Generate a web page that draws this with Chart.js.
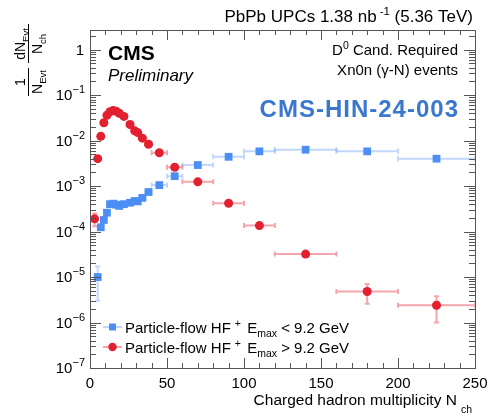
<!DOCTYPE html>
<html>
<head>
<meta charset="utf-8">
<script src="https://cdn.jsdelivr.net/npm/chart.js@4/dist/chart.umd.min.js"></script>
<style>
  html, body { margin: 0; padding: 0; background: #fff; }
  #wrap { width: 489px; height: 416px; }
</style>
</head>
<body>
<div id="wrap"><canvas id="chart" width="489" height="416"></canvas></div>
<script>
// ---- data ----
// HF+ Emax < 9.2 GeV
const blueX    = [5, 7, 9, 11, 13, 15, 17, 19, 22, 26, 29, 31, 34, 38, 45, 55, 70, 90, 110, 140, 180, 225];
const blueXErr = [1, 1, 1, 1, 1, 1, 1, 1, 2, 2, 1, 1, 2, 2, 5, 5, 10, 10, 10, 20, 20, 25];
const blueY    = [1.0e-5, 1.24e-4, 1.8e-4, 2.6e-4, 4.0e-4, 4.1e-4, 3.9e-4, 3.66e-4, 4.0e-4, 4.3e-4, 4.7e-4, 4.6e-4,
                  5.5e-4, 7.4e-4, 1.05e-3, 1.65e-3, 2.9e-3, 4.4e-3, 5.8e-3, 6.3e-3, 5.8e-3, 4.0e-3];
const blueYErr = [0.7e-5, 0.15e-4, 0.15e-4, 0.2e-4, 0.2e-4, 0.2e-4, 0.2e-4, 0.2e-4, 0.2e-4, 0.2e-4, 0.2e-4, 0.2e-4,
                  0.2e-4, 0.3e-4, 0.4e-4, 0.5e-4, 0.6e-4, 0.8e-4, 1e-4, 1e-4, 1e-4, 1e-4];

// HF+ Emax > 9.2 GeV
const redX    = [3, 5, 7, 9, 11, 13, 15, 17, 19, 22, 26, 29, 31, 34, 38, 45, 55, 70, 90, 110, 140, 180, 225];
const redXErr = [1, 1, 1, 1, 1, 1, 1, 1, 1, 2, 2, 1, 1, 2, 2, 5, 5, 10, 10, 10, 20, 20, 25];
const redY    = [1.9e-4, 4.0e-3, 1.24e-2, 2.46e-2, 3.6e-2, 4.3e-2, 4.6e-2, 4.4e-2, 4.0e-2, 3.4e-2, 2.26e-2, 1.64e-2,
                 1.5e-2, 1.13e-2, 8.3e-3, 5.4e-3, 2.6e-3, 1.24e-3, 4.2e-4, 1.35e-4, 3.2e-5, 4.8e-6, 2.4e-6];
const redYErr = [0.6e-4, 0.3e-3, 0.5e-3, 0.8e-3, 1e-3, 1e-3, 1e-3, 1e-3, 1e-3, 1e-3, 0.8e-3, 0.6e-3,
                 0.6e-3, 0.4e-3, 0.3e-3, 0.2e-3, 0.1e-3, 0.06e-3, 0.3e-4, 0.15e-4, 0.4e-5, 2.2e-6, 1.4e-6];

const xTicks = [0, 50, 100, 150, 200, 250];
const yTickExps = [0, -1, -2, -3, -4, -5, -6, -7];

const X_MIN = 0, X_MAX = 250;
const Y_MIN = 1e-7, Y_MAX = 2.7;

const BLUE = '#4d8ef5';
const BLUE_ERR = 'rgba(77,142,245,0.35)';
const RED = '#e3202f';
const RED_ERR = 'rgba(227,32,47,0.4)';
const FONT = '"Liberation Sans", Arial, Helvetica, sans-serif';

function fontOf(p) {
  return `${p.style || 'normal'} ${p.weight || 'normal'} ${p.size}px ${FONT}`;
}

// draw a run of text pieces (for super/subscripts)
function runText(ctx, parts, x, y, align, spacing) {
  ctx.letterSpacing = spacing || '0px';
  let w = 0;
  parts.forEach(p => {
    ctx.font = fontOf(p);
    p.w = ctx.measureText(p.t).width;
    w += p.w + (p.gap || 0);
  });
  let cx = align === 'right' ? x - w : align === 'center' ? x - w / 2 : x;
  ctx.textAlign = 'left';
  ctx.textBaseline = 'alphabetic';
  parts.forEach(p => {
    cx += p.gap || 0;
    ctx.font = fontOf(p);
    ctx.fillStyle = p.color || '#000';
    ctx.fillText(p.t, cx, y + (p.dy || 0));
    cx += p.w;
  });
  ctx.letterSpacing = '0px';
  return w;
}

const errorBars = {
  id: 'errorBars',
  beforeDatasetsDraw(chart) {
    const { ctx, scales: { x, y }, chartArea: a } = chart;
    ctx.save();
    ctx.beginPath();
    ctx.rect(a.left, a.top, a.right - a.left, a.bottom - a.top);
    ctx.clip();
    chart.data.datasets.forEach(ds => {
      ctx.strokeStyle = ds.errColor;
      ctx.lineWidth = 2;
      ds.data.forEach((pt, i) => {
        const px = x.getPixelForValue(pt.x);
        const py = y.getPixelForValue(pt.y);
        const x0 = x.getPixelForValue(pt.x - ds.xErr[i]);
        const x1 = x.getPixelForValue(pt.x + ds.xErr[i]);
        const lo = Math.max(pt.y - ds.yErr[i], Y_MIN * 0.5);
        const y0 = y.getPixelForValue(lo);
        const y1 = y.getPixelForValue(pt.y + ds.yErr[i]);
        ctx.beginPath();
        ctx.moveTo(x0, py); ctx.lineTo(x1, py);
        ctx.moveTo(x0, py - 2.5); ctx.lineTo(x0, py + 2.5);
        ctx.moveTo(x1, py - 2.5); ctx.lineTo(x1, py + 2.5);
        ctx.moveTo(px, y0); ctx.lineTo(px, y1);
        if (Math.abs(y0 - y1) > 8) {
          ctx.moveTo(px - 2.5, y0); ctx.lineTo(px + 2.5, y0);
          ctx.moveTo(px - 2.5, y1); ctx.lineTo(px + 2.5, y1);
        }
        ctx.stroke();
      });
    });
    ctx.restore();
  },
};

const frame = {
  id: 'frame',
  afterDraw(chart) {
    const { ctx, scales: { x, y }, chartArea: a } = chart;
    ctx.save();
    ctx.strokeStyle = '#555';
    ctx.lineWidth = 1;
    ctx.strokeRect(a.left + 0.5, a.top + 0.5, a.right - a.left, a.bottom - a.top);

    // x ticks, inside, bottom and top
    ctx.beginPath();
    for (let v = X_MIN; v <= X_MAX; v += 10) {
      const px = Math.round(x.getPixelForValue(v)) + 0.5;
      const len = v % 50 === 0 ? 10 : 5;
      ctx.moveTo(px, a.bottom); ctx.lineTo(px, a.bottom - len);
      ctx.moveTo(px, a.top); ctx.lineTo(px, a.top + len);
    }
    // y ticks, log
    for (let e = -7; e <= 0; e++) {
      for (let m = 1; m <= 9; m++) {
        const v = m * Math.pow(10, e);
        if (v < Y_MIN || v > Y_MAX) continue;
        const py = Math.round(y.getPixelForValue(v)) + 0.5;
        const len = m === 1 ? 11 : 6;
        ctx.moveTo(a.left, py); ctx.lineTo(a.left + len, py);
        ctx.moveTo(a.right, py); ctx.lineTo(a.right - len, py);
      }
    }
    const py2 = Math.round(y.getPixelForValue(2)) + 0.5;
    ctx.moveTo(a.left, py2); ctx.lineTo(a.left + 6, py2);
    ctx.moveTo(a.right, py2); ctx.lineTo(a.right - 6, py2);
    ctx.stroke();

    // x tick labels
    ctx.fillStyle = '#000';
    xTicks.forEach(v => {
      runText(ctx, [{ t: String(v), size: 15 }], x.getPixelForValue(v), a.bottom + 20, 'center');
    });
    // y tick labels
    yTickExps.forEach(e => {
      const py = y.getPixelForValue(Math.pow(10, e)) + 5;
      if (e === 0) {
        runText(ctx, [{ t: '1', size: 15 }], a.left - 6, py, 'right');
      } else {
        runText(ctx, [{ t: '10', size: 15 }, { t: '\u2212' + (-e), size: 11, dy: -7 }], a.left - 5, py, 'right');
      }
    });

    // x title
    runText(ctx, [{ t: 'Charged hadron multiplicity N', size: 15.5 }, { t: 'ch', size: 10.5, dy: 8, gap: 4 }],
      a.right - 3, 405, 'right');

    // y title (rotated fractions)
    ctx.save();
    ctx.translate(28, 0);
    ctx.rotate(-Math.PI / 2);
    ctx.strokeStyle = '#000';
    ctx.lineWidth = 1;
    ctx.beginPath();
    ctx.moveTo(-96, 0.5); ctx.lineTo(-68, 0.5);
    ctx.moveTo(-63, 0.5); ctx.lineTo(-24, 0.5);
    ctx.stroke();
    runText(ctx, [{ t: '1', size: 14 }], -82, -3, 'center');
    runText(ctx, [{ t: 'N', size: 14 }, { t: 'Evt', size: 9.5, dy: 4 }], -82, 14, 'center');
    runText(ctx, [{ t: 'dN', size: 14 }, { t: 'Evt', size: 9.5, dy: 4 }], -44, -3, 'center');
    runText(ctx, [{ t: 'N', size: 14 }, { t: 'ch', size: 9.5, dy: 4 }], -44, 14, 'center');
    ctx.restore();

    // header
    runText(ctx, [
      { t: 'PbPb UPCs 1.38 nb', size: 17 },
      { t: '-1', size: 11.5, dy: -7, gap: 3 },
      { t: ' (5.36 TeV)', size: 17 },
    ], a.right - 2, 22, 'right');

    // inside labels
    runText(ctx, [{ t: 'CMS', size: 21, weight: 'bold' }], 108, 60, 'left');
    runText(ctx, [{ t: 'Preliminary', size: 17, style: 'italic' }], 108, 81, 'left');
    runText(ctx, [{ t: 'D', size: 15 }, { t: '0', size: 10.5, dy: -6 }, { t: ' Cand. Required', size: 15 }],
      458, 55, 'right');
    runText(ctx, [{ t: 'Xn0n (\u03b3-N) events', size: 15 }], 458, 75, 'right');
    runText(ctx, [{ t: 'CMS-HIN-24-003', size: 24, weight: 'bold', color: '#3a78cf' }], 459, 117, 'right', '1px');

    // legend
    const legend = [
      { color: BLUE, err: BLUE_ERR, style: 'rect', op: '<', y: 327 },
      { color: RED, err: RED_ERR, style: 'circle', op: '>', y: 347 },
    ];
    legend.forEach(l => {
      ctx.strokeStyle = l.err;
      ctx.lineWidth = 2;
      ctx.beginPath();
      ctx.moveTo(103, l.y); ctx.lineTo(122, l.y);
      ctx.stroke();
      ctx.fillStyle = l.color;
      if (l.style === 'rect') {
        ctx.fillRect(109, l.y - 3.5, 7, 7);
      } else {
        ctx.beginPath();
        ctx.arc(112.5, l.y, 4.2, 0, Math.PI * 2);
        ctx.fill();
      }
      runText(ctx, [
        { t: 'Particle-flow HF', size: 15 },
        { t: '+', size: 10.5, dy: -6, gap: 4 },
        { t: ' E', size: 15, gap: 2 },
        { t: 'max', size: 10.5, dy: 4 },
        { t: ' ' + l.op + ' 9.2 GeV', size: 15 },
      ], 125, l.y + 6, 'left');
    });
    ctx.restore();
  },
};

const toPoints = (xs, ys) => xs.map((v, i) => ({ x: v, y: ys[i] }));

new Chart(document.getElementById('chart'), {
  type: 'scatter',
  data: {
    datasets: [
      {
        label: 'Particle-flow HF+ Emax < 9.2 GeV',
        data: toPoints(blueX, blueY),
        xErr: blueXErr,
        yErr: blueYErr,
        errColor: BLUE_ERR,
        pointStyle: 'rect',
        pointRadius: 5.5,
        backgroundColor: BLUE,
        borderWidth: 0,
      },
      {
        label: 'Particle-flow HF+ Emax > 9.2 GeV',
        data: toPoints(redX, redY),
        xErr: redXErr,
        yErr: redYErr,
        errColor: RED_ERR,
        pointStyle: 'circle',
        pointRadius: 4.5,
        backgroundColor: RED,
        borderWidth: 0,
      },
    ],
  },
  options: {
    responsive: false,
    animation: false,
    layout: { padding: { left: 90, right: 14, top: 30, bottom: 48 } },
    plugins: { legend: { display: false }, tooltip: { enabled: false } },
    scales: {
      x: { type: 'linear', min: X_MIN, max: X_MAX, display: false },
      y: { type: 'logarithmic', min: Y_MIN, max: Y_MAX, display: false },
    },
  },
  plugins: [errorBars, frame],
});
</script>
</body>
</html>
